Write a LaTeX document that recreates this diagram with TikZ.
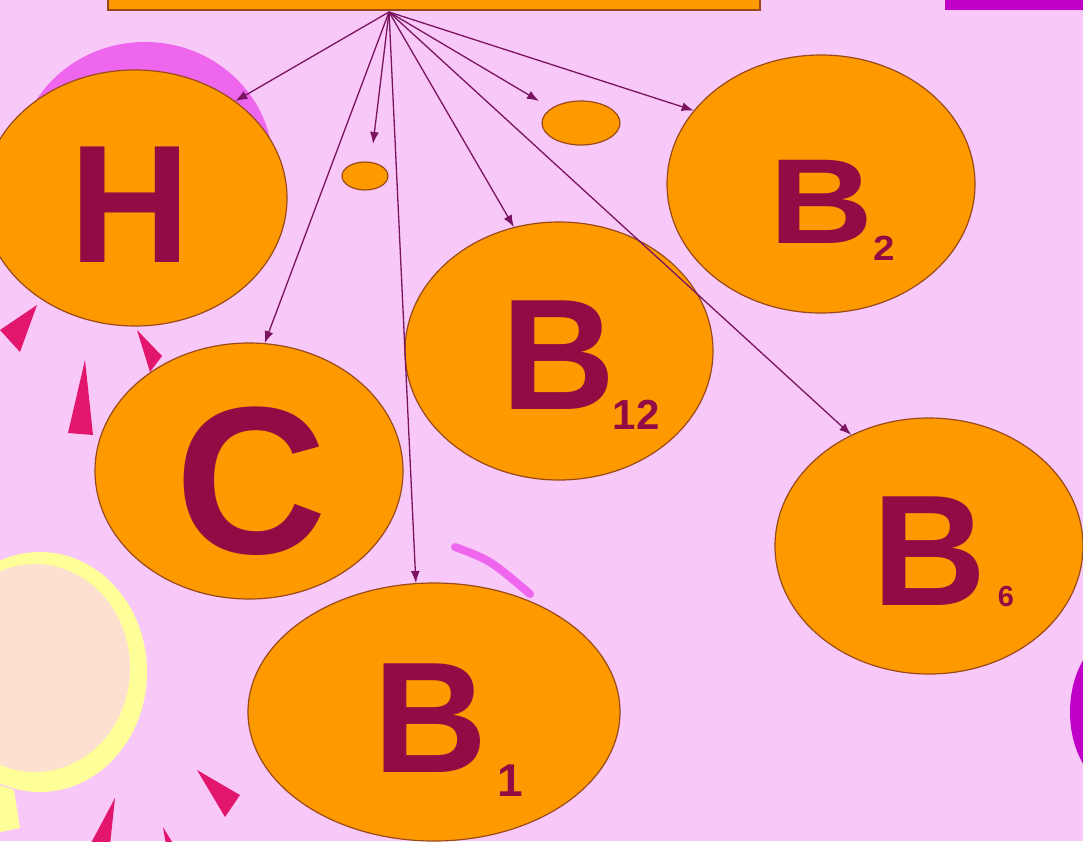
\documentclass[tikz,border=0pt]{standalone}
\usepackage{fontspec}
\setmainfont{Liberation Sans}
\usetikzlibrary{shapes.geometric,arrows.meta}
\definecolor{bg}{HTML}{F8C8F8}
\definecolor{orng}{HTML}{FF9900}
\definecolor{rim}{HTML}{9A4A1A}
\definecolor{txt}{HTML}{930B45}
\definecolor{arr}{HTML}{7B1460}
\definecolor{magen}{HTML}{EE66EE}
\definecolor{crim}{HTML}{E2166C}
\definecolor{ylw}{HTML}{FFFF99}
\definecolor{peach}{HTML}{FDE0CF}
\definecolor{purp}{HTML}{C000C8}
\tikzset{
  ball/.style={ellipse, draw=rim, fill=orng, line width=1.2pt, inner sep=0pt},
  letter/.style={inner sep=0pt, text=txt, font=\bfseries},
  link/.style={draw=arr, line width=1.3pt, -{Latex[length=12pt,width=9pt]}},
  wedge/.style={fill=crim}
}
\newcommand{\fs}[1]{\fontsize{#1}{#1}\selectfont}
\begin{document}
\begin{tikzpicture}[x=1pt,y=-1pt]
\useasboundingbox (0,0) rectangle (1083,841);
\clip (0,0) rectangle (1083,841);
\fill[bg] (0,0) rectangle (1083,841);
% top bars
\draw[fill=orng, draw=rim, line width=1.2pt] (108,-20) rectangle (760,10);
\fill[purp] (945,-20) rectangle (1090,10);
% decorations
\fill[magen] (145,165) ellipse [x radius=128, y radius=123];
\fill[wedge] (0,330) -- (37,305) -- (20,352) -- cycle;
\fill[wedge] (68,433) -- (93,435) -- (85,360) -- cycle;
\fill[wedge] (137,330) -- (162,356) -- (150,372) -- cycle;
\fill[wedge] (197,770) -- (240,795) -- (225,817) -- cycle;
\fill[wedge] (115,798) -- (90,845) -- (110,845) -- cycle;
\fill[wedge] (163,827) -- (166,845) -- (174,845) -- cycle;
\fill[ylw] (40,672) ellipse [x radius=107, y radius=120];
\fill[peach] (35,668) ellipse [x radius=95, y radius=104];
\fill[ylw] (0,785) -- (14,790) -- (20,828) -- (0,832) -- cycle;
\draw[magen, line width=8pt, line cap=round] (455,547) .. controls (490,560) .. (530,594);
\fill[purp] (1125,712) ellipse [x radius=55, y radius=80];
% balls
\node[ball, minimum width=304pt, minimum height=256pt] (H) at (135,198) {};
\node[ball, minimum width=308pt, minimum height=256pt] (C) at (249,471) {};
\node[ball, minimum width=308pt, minimum height=258pt] (B12) at (559,351) {};
\node[ball, minimum width=308pt, minimum height=258pt] (B2) at (821,184) {};
\node[ball, minimum width=308pt, minimum height=256pt] (B6) at (929,546) {};
\node[ball, minimum width=372pt, minimum height=258pt] (B1) at (434,712) {};
\node[ball, minimum width=46pt, minimum height=28pt] (s1) at (365,176) {};
\node[ball, minimum width=78pt, minimum height=44pt] (s2) at (581,123) {};
% arrows
\coordinate (src) at (389,12);
\coordinate (e2) at (373,144);
\coordinate (e6) at (539,101);
\draw[link] (src) -- (H.44);
\draw[link] (src) -- (e2);
\draw[link] (src) -- (C.83);
\draw[link] (src) -- (B1.98);
\draw[link] (src) -- (B12.110);
\draw[link] (src) -- (e6);
\draw[link] (src) -- (B2.150);
\draw[link] (src) -- (B6.125);
% letters
\node[letter, font=\bfseries\fs{168}] (tH) at (130,205) {H};
\node[letter, font=\bfseries\fs{210}] (tC) at (251,481) {C};
\node[letter, font=\bfseries\fs{121}, xscale=1.19] (tB2) at (821,202) {B};
\node[letter, font=\bfseries\fs{35}, xscale=1.1] (sB2) at (884,248) {2};
\node[letter, font=\bfseries\fs{158}] (tB12) at (559,355) {B};
\node[letter, font=\bfseries\fs{42}] (sB12) at (636,415) {12};
\node[letter, font=\bfseries\fs{158}] (tB6) at (930,551) {B};
\node[letter, font=\bfseries\fs{29}] (sB6) at (1006,597) {6};
\node[letter, font=\bfseries\fs{158}] (tB1) at (431,718) {B};
\node[letter, font=\bfseries\fs{46}] (sB1) at (510,781) {1};
\end{tikzpicture}
\end{document}
